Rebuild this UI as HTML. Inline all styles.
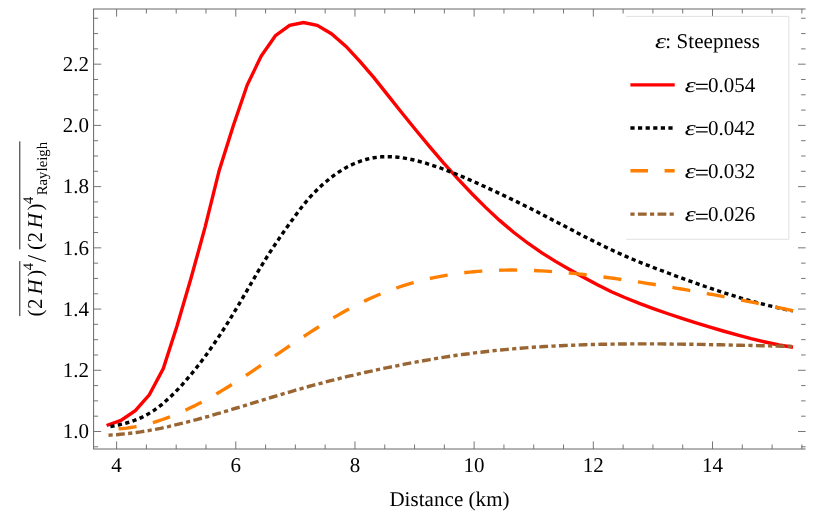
<!DOCTYPE html>
<html>
<head>
<meta charset="utf-8">
<title>Plot</title>
<style>
html, body { margin: 0; padding: 0; background: #ffffff; }
body { width: 830px; height: 527px; overflow: hidden; font-family: "Liberation Serif", serif; }
svg { display: block; will-change: transform; }
svg text { font-family: "Liberation Serif", serif; font-size: 21.0px; fill: #000; text-rendering: geometricPrecision; }
</style>
</head>
<body>
<svg width="830" height="527" viewBox="0 0 830 527">
<rect x="0" y="0" width="830" height="527" fill="#ffffff"/>
<g id="curves" stroke-linecap="butt">
<path d="M106.6,425.5 L120.9,420.4 L135.3,410.6 L149.3,394.8 L163.3,368.6 L177.0,326.0 L191.0,278.3 L205.1,227.1 L219.2,170.4 L233.2,126.0 L247.3,84.8 L261.2,56.1 L275.4,35.7 L289.6,25.4 L303.5,22.5 L317.2,25.4 L331.4,33.7 L345.8,46.1 L359.9,61.4 L373.9,77.6 L387.8,95.1 L401.8,112.7 L415.8,130.0 L429.8,146.9 L443.7,163.2 L457.7,178.7 L471.7,193.5 L485.6,207.4 L499.6,220.4 L513.6,232.3 L527.6,243.0 L541.5,252.7 L555.5,261.4 L569.5,269.5 L583.4,277.2 L597.4,284.7 L611.4,291.7 L625.3,297.8 L639.3,303.4 L653.3,308.6 L667.3,313.5 L681.2,318.2 L695.2,322.7 L709.2,326.9 L723.1,331.0 L737.1,334.9 L751.1,338.7 L765.1,342.0 L779.0,345.0 L793.0,347.3" stroke="#ff0000" stroke-width="3.4" fill="none" stroke-linejoin="miter"/>
<path d="M110.4,426.6 L114.4,425.8 L118.4,425.0 L122.4,424.1 L126.4,423.0 L130.4,421.8 L134.4,420.4 L138.3,418.9 L142.3,417.1 L146.3,415.0 L150.3,412.7 L154.3,410.2 L158.3,407.3 L162.3,404.1 L166.3,400.6 L170.3,396.9 L174.3,393.0 L178.3,388.9 L182.3,384.6 L186.2,380.1 L190.2,375.4 L194.2,370.6 L198.2,365.5 L202.2,360.3 L206.2,354.9 L210.2,349.3 L214.2,343.5 L218.2,337.6 L222.2,331.5 L226.2,325.2 L230.2,318.8 L234.1,312.3 L238.1,305.7 L242.1,298.9 L246.1,292.1 L250.1,285.2 L254.1,278.3 L258.1,271.4 L262.1,264.8 L266.1,258.3 L270.1,252.0 L274.1,246.0 L278.1,240.1 L282.0,234.3 L286.0,228.6 L290.0,223.0 L294.0,217.5 L298.0,212.0 L302.0,206.7 L306.0,201.8 L310.0,197.2 L314.0,192.9 L318.0,188.9 L322.0,185.1 L326.0,181.7 L329.9,178.4 L333.9,175.4 L337.9,172.6 L341.9,170.1 L345.9,167.7 L349.9,165.6 L353.9,163.8 L357.9,162.1 L361.9,160.7 L365.9,159.5 L369.9,158.5 L373.9,157.7 L377.9,157.2 L381.8,156.8 L385.8,156.7 L389.8,156.7 L393.8,156.9 L397.8,157.2 L401.8,157.7 L405.8,158.4 L409.8,159.1 L413.8,160.0 L417.8,161.0 L421.8,162.1 L425.8,163.2 L429.7,164.5 L433.7,165.8 L437.7,167.1 L441.7,168.5 L445.7,170.0 L449.7,171.6 L453.7,173.1 L457.7,174.8 L461.7,176.4 L465.7,178.1 L469.7,179.9 L473.7,181.6 L477.6,183.4 L481.6,185.2 L485.6,187.0 L489.6,188.9 L493.6,190.7 L497.6,192.6 L501.6,194.5 L505.6,196.4 L509.6,198.3 L513.6,200.2 L517.6,202.1 L521.6,204.1 L525.5,206.1 L529.5,208.0 L533.5,210.1 L537.5,212.1 L541.5,214.1 L545.5,216.2 L549.5,218.3 L553.5,220.4 L557.5,222.4 L561.5,224.5 L565.5,226.6 L569.5,228.7 L573.5,230.8 L577.4,232.9 L581.4,235.0 L585.4,237.1 L589.4,239.1 L593.4,241.1 L597.4,243.1 L601.4,245.1 L605.4,247.0 L609.4,248.9 L613.4,250.8 L617.4,252.6 L621.4,254.4 L625.3,256.1 L629.3,257.9 L633.3,259.5 L637.3,261.2 L641.3,262.8 L645.3,264.4 L649.3,265.9 L653.3,267.5 L657.3,269.0 L661.3,270.5 L665.3,272.0 L669.3,273.5 L673.2,275.0 L677.2,276.5 L681.2,277.9 L685.2,279.4 L689.2,280.8 L693.2,282.2 L697.2,283.7 L701.2,285.1 L705.2,286.5 L709.2,287.8 L713.2,289.2 L717.2,290.5 L721.1,291.8 L725.1,293.1 L729.1,294.4 L733.1,295.6 L737.1,296.9 L741.1,298.1 L745.1,299.2 L749.1,300.4 L753.1,301.5 L757.1,302.6 L761.1,303.6 L765.1,304.7 L769.0,305.7 L773.0,306.6 L777.0,307.5 L781.0,308.4 L785.0,309.3 L789.0,310.1 L793.0,310.9" stroke="#000000" stroke-width="3.4" fill="none" stroke-dasharray="4.2 3.4"/>
<path d="M118.6,428.8 L122.6,428.5 L126.6,428.1 L130.6,427.5 L134.6,426.9 L138.6,426.1 L142.5,425.2 L146.5,424.3 L150.5,423.2 L154.5,422.1 L158.5,420.8 L162.5,419.5 L166.5,418.1 L170.5,416.6 L174.5,415.0 L178.5,413.3 L182.4,411.6 L186.4,409.7 L190.4,407.8 L194.4,405.9 L198.4,403.8 L202.4,401.8 L206.4,399.6 L210.4,397.4 L214.4,395.1 L218.4,392.8 L222.4,390.4 L226.3,388.0 L230.3,385.5 L234.3,383.0 L238.3,380.4 L242.3,377.8 L246.3,375.2 L250.3,372.6 L254.3,369.9 L258.3,367.2 L262.3,364.5 L266.2,361.8 L270.2,359.1 L274.2,356.4 L278.2,353.7 L282.2,350.9 L286.2,348.2 L290.2,345.5 L294.2,342.8 L298.2,340.2 L302.2,337.5 L306.2,334.9 L310.1,332.3 L314.1,329.7 L318.1,327.2 L322.1,324.7 L326.1,322.2 L330.1,319.8 L334.1,317.4 L338.1,315.1 L342.1,312.8 L346.1,310.6 L350.1,308.4 L354.0,306.3 L358.0,304.3 L362.0,302.3 L366.0,300.4 L370.0,298.5 L374.0,296.7 L378.0,295.0 L382.0,293.4 L386.0,291.8 L390.0,290.3 L393.9,288.9 L397.9,287.5 L401.9,286.2 L405.9,284.9 L409.9,283.7 L413.9,282.6 L417.9,281.5 L421.9,280.4 L425.9,279.5 L429.9,278.5 L433.9,277.7 L437.8,276.9 L441.8,276.1 L445.8,275.4 L449.8,274.7 L453.8,274.1 L457.8,273.5 L461.8,273.0 L465.8,272.5 L469.8,272.1 L473.8,271.7 L477.7,271.4 L481.7,271.1 L485.7,270.8 L489.7,270.6 L493.7,270.4 L497.7,270.3 L501.7,270.1 L505.7,270.1 L509.7,270.0 L513.7,270.0 L517.7,270.1 L521.6,270.1 L525.6,270.2 L529.6,270.3 L533.6,270.5 L537.6,270.7 L541.6,270.9 L545.6,271.1 L549.6,271.4 L553.6,271.7 L557.6,272.0 L561.5,272.3 L565.5,272.7 L569.5,273.0 L573.5,273.4 L577.5,273.9 L581.5,274.3 L585.5,274.8 L589.5,275.2 L593.5,275.7 L597.5,276.2 L601.5,276.7 L605.4,277.2 L609.4,277.8 L613.4,278.3 L617.4,278.9 L621.4,279.5 L625.4,280.0 L629.4,280.6 L633.4,281.2 L637.4,281.8 L641.4,282.4 L645.4,283.1 L649.3,283.7 L653.3,284.3 L657.3,285.0 L661.3,285.6 L665.3,286.3 L669.3,286.9 L673.3,287.6 L677.3,288.3 L681.3,289.0 L685.3,289.7 L689.2,290.4 L693.2,291.1 L697.2,291.8 L701.2,292.5 L705.2,293.2 L709.2,294.0 L713.2,294.7 L717.2,295.4 L721.2,296.2 L725.2,297.0 L729.2,297.7 L733.1,298.5 L737.1,299.3 L741.1,300.0 L745.1,300.8 L749.1,301.6 L753.1,302.4 L757.1,303.2 L761.1,304.0 L765.1,304.8 L769.1,305.7 L773.0,306.5 L777.0,307.3 L781.0,308.1 L785.0,309.0 L789.0,309.8 L793.0,310.7" stroke="#ff8000" stroke-width="3.4" fill="none" stroke-dasharray="18.1 16.8"/>
<path d="M108.5,435.2 L112.5,434.9 L116.5,434.7 L120.5,434.3 L124.5,433.9 L128.5,433.5 L132.5,433.0 L136.5,432.5 L140.5,431.9 L144.5,431.2 L148.5,430.6 L152.5,429.8 L156.5,429.1 L160.5,428.3 L164.5,427.4 L168.5,426.6 L172.5,425.6 L176.5,424.7 L180.6,423.7 L184.6,422.7 L188.6,421.7 L192.6,420.7 L196.6,419.6 L200.6,418.5 L204.6,417.4 L208.6,416.3 L212.6,415.1 L216.6,413.9 L220.6,412.8 L224.6,411.6 L228.6,410.4 L232.6,409.2 L236.6,408.0 L240.6,406.8 L244.6,405.6 L248.6,404.3 L252.6,403.1 L256.6,401.9 L260.6,400.7 L264.6,399.5 L268.6,398.2 L272.6,397.0 L276.6,395.8 L280.6,394.6 L284.6,393.4 L288.6,392.3 L292.6,391.1 L296.6,389.9 L300.6,388.8 L304.6,387.7 L308.6,386.5 L312.6,385.4 L316.7,384.4 L320.7,383.3 L324.7,382.2 L328.7,381.2 L332.7,380.2 L336.7,379.2 L340.7,378.2 L344.7,377.2 L348.7,376.2 L352.7,375.3 L356.7,374.3 L360.7,373.4 L364.7,372.5 L368.7,371.6 L372.7,370.8 L376.7,369.9 L380.7,369.0 L384.7,368.2 L388.7,367.4 L392.7,366.6 L396.7,365.8 L400.7,365.0 L404.7,364.2 L408.7,363.4 L412.7,362.7 L416.7,361.9 L420.7,361.2 L424.7,360.5 L428.7,359.8 L432.7,359.1 L436.7,358.4 L440.7,357.8 L444.7,357.1 L448.7,356.5 L452.8,355.9 L456.8,355.3 L460.8,354.7 L464.8,354.2 L468.8,353.7 L472.8,353.1 L476.8,352.6 L480.8,352.2 L484.8,351.7 L488.8,351.2 L492.8,350.8 L496.8,350.4 L500.8,350.0 L504.8,349.6 L508.8,349.2 L512.8,348.9 L516.8,348.5 L520.8,348.2 L524.8,347.9 L528.8,347.6 L532.8,347.3 L536.8,347.0 L540.8,346.8 L544.8,346.5 L548.8,346.3 L552.8,346.1 L556.8,345.9 L560.8,345.7 L564.8,345.5 L568.8,345.3 L572.8,345.2 L576.8,345.0 L580.8,344.9 L584.8,344.7 L588.9,344.6 L592.9,344.5 L596.9,344.4 L600.9,344.3 L604.9,344.2 L608.9,344.2 L612.9,344.1 L616.9,344.1 L620.9,344.0 L624.9,344.0 L628.9,343.9 L632.9,343.9 L636.9,343.9 L640.9,343.9 L644.9,343.9 L648.9,343.9 L652.9,343.9 L656.9,343.9 L660.9,343.9 L664.9,344.0 L668.9,344.0 L672.9,344.1 L676.9,344.1 L680.9,344.1 L684.9,344.2 L688.9,344.3 L692.9,344.3 L696.9,344.4 L700.9,344.4 L704.9,344.5 L708.9,344.6 L712.9,344.7 L716.9,344.7 L720.9,344.8 L725.0,344.9 L729.0,345.0 L733.0,345.1 L737.0,345.2 L741.0,345.3 L745.0,345.4 L749.0,345.4 L753.0,345.5 L757.0,345.6 L761.0,345.7 L765.0,345.8 L769.0,345.9 L773.0,346.0 L777.0,346.1 L781.0,346.2 L785.0,346.2 L789.0,346.3 L793.0,346.4" stroke="#996633" stroke-width="3.4" fill="none" stroke-dasharray="4.2 3.35 8.8 3.35"/>
</g>
<g id="frame" fill="none" stroke="#666" stroke-width="1">
<path d="M93.6,449.0 V9.0"/>
<path d="M93.1,9.0 H805.6"/>
<path d="M93.1,449.0 H805.6"/>
<path d="M116.60,449.0 v-7.6 M116.60,9.0 v7.6 M146.39,449.0 v-4.5 M146.39,9.0 v4.5 M176.19,449.0 v-4.5 M176.19,9.0 v4.5 M205.99,449.0 v-4.5 M205.99,9.0 v4.5 M235.78,449.0 v-7.6 M235.78,9.0 v7.6 M265.58,449.0 v-4.5 M265.58,9.0 v4.5 M295.37,449.0 v-4.5 M295.37,9.0 v4.5 M325.16,449.0 v-4.5 M325.16,9.0 v4.5 M354.96,449.0 v-7.6 M354.96,9.0 v7.6 M384.75,449.0 v-4.5 M384.75,9.0 v4.5 M414.55,449.0 v-4.5 M414.55,9.0 v4.5 M444.35,449.0 v-4.5 M444.35,9.0 v4.5 M474.14,449.0 v-7.6 M474.14,9.0 v7.6 M503.94,449.0 v-4.5 M503.94,9.0 v4.5 M533.73,449.0 v-4.5 M533.73,9.0 v4.5 M563.52,449.0 v-4.5 M563.52,9.0 v4.5 M593.32,449.0 v-7.6 M593.32,9.0 v7.6 M623.12,449.0 v-4.5 M623.12,9.0 v4.5 M652.91,449.0 v-4.5 M652.91,9.0 v4.5 M682.71,449.0 v-4.5 M682.71,9.0 v4.5 M712.50,449.0 v-7.6 M712.50,9.0 v7.6 M742.30,449.0 v-4.5 M742.30,9.0 v4.5 M772.09,449.0 v-4.5 M772.09,9.0 v4.5 M801.89,449.0 v-4.5 M801.89,9.0 v4.5 M93.6,446.81 h4.5 M805.6,446.81 h-4.5 M93.6,431.50 h7.6 M805.6,431.50 h-7.6 M93.6,416.19 h4.5 M805.6,416.19 h-4.5 M93.6,400.89 h4.5 M805.6,400.89 h-4.5 M93.6,385.58 h4.5 M805.6,385.58 h-4.5 M93.6,370.28 h7.6 M805.6,370.28 h-7.6 M93.6,354.98 h4.5 M805.6,354.98 h-4.5 M93.6,339.67 h4.5 M805.6,339.67 h-4.5 M93.6,324.36 h4.5 M805.6,324.36 h-4.5 M93.6,309.06 h7.6 M805.6,309.06 h-7.6 M93.6,293.75 h4.5 M805.6,293.75 h-4.5 M93.6,278.45 h4.5 M805.6,278.45 h-4.5 M93.6,263.14 h4.5 M805.6,263.14 h-4.5 M93.6,247.84 h7.6 M805.6,247.84 h-7.6 M93.6,232.53 h4.5 M805.6,232.53 h-4.5 M93.6,217.23 h4.5 M805.6,217.23 h-4.5 M93.6,201.92 h4.5 M805.6,201.92 h-4.5 M93.6,186.62 h7.6 M805.6,186.62 h-7.6 M93.6,171.31 h4.5 M805.6,171.31 h-4.5 M93.6,156.01 h4.5 M805.6,156.01 h-4.5 M93.6,140.70 h4.5 M805.6,140.70 h-4.5 M93.6,125.40 h7.6 M805.6,125.40 h-7.6 M93.6,110.09 h4.5 M805.6,110.09 h-4.5 M93.6,94.79 h4.5 M805.6,94.79 h-4.5 M93.6,79.49 h4.5 M805.6,79.49 h-4.5 M93.6,64.18 h7.6 M805.6,64.18 h-7.6 M93.6,48.88 h4.5 M805.6,48.88 h-4.5 M93.6,33.57 h4.5 M805.6,33.57 h-4.5 M93.6,18.26 h4.5 M805.6,18.26 h-4.5" stroke-width="0.9"/>
</g>
<g id="legend">
<rect x="626.2" y="16.4" width="162.69999999999993" height="222.9" fill="#fff"/>
<path d="M626.2,16.4 H788.9 V239.3 H626.2" fill="none" stroke="#d9d9d9" stroke-width="0.8"/>
<text transform="translate(655,47.6) scale(1.33,1)" font-style="italic">ε</text>
<text x="665.3" y="47.6" style="letter-spacing:0.07px">: Steepness</text>
<path d="M630.4,84.9 H674.7" stroke="#ff0000" stroke-width="3.4" fill="none"/>
<text transform="translate(684.7,91.9) scale(1.33,1)" font-style="italic">ε</text>
<text transform="translate(694.8,94.3) scale(1.2,1.06)">=</text>
<text x="707.9" y="91.9">0.054</text>
<path d="M630.4,128.0 H674.7" stroke="#000000" stroke-width="3.4" fill="none" stroke-dasharray="4.2 3.4"/>
<text transform="translate(684.7,135.0) scale(1.33,1)" font-style="italic">ε</text>
<text transform="translate(694.8,137.4) scale(1.2,1.06)">=</text>
<text x="707.9" y="135.0">0.042</text>
<path d="M630.4,170.8 H674.7" stroke="#ff8000" stroke-width="3.4" fill="none" stroke-dasharray="17.6 16.6"/>
<text transform="translate(684.7,177.8) scale(1.33,1)" font-style="italic">ε</text>
<text transform="translate(694.8,180.2) scale(1.2,1.06)">=</text>
<text x="707.9" y="177.8">0.032</text>
<path d="M630.4,214.1 H674.7" stroke="#996633" stroke-width="3.4" fill="none" stroke-dasharray="4.2 3.3 8.8 3.3"/>
<text transform="translate(684.7,221.1) scale(1.33,1)" font-style="italic">ε</text>
<text transform="translate(694.8,223.5) scale(1.2,1.06)">=</text>
<text x="707.9" y="221.1">0.026</text>
</g>
<g id="labels">
<text x="116.6" y="472.3" text-anchor="middle">4</text>
<text x="235.8" y="472.3" text-anchor="middle">6</text>
<text x="355.0" y="472.3" text-anchor="middle">8</text>
<text x="474.1" y="472.3" text-anchor="middle">10</text>
<text x="593.3" y="472.3" text-anchor="middle">12</text>
<text x="712.5" y="472.3" text-anchor="middle">14</text>
<text x="88.9" y="438.3" text-anchor="end">1.0</text>
<text x="88.9" y="377.1" text-anchor="end">1.2</text>
<text x="88.9" y="315.9" text-anchor="end">1.4</text>
<text x="88.9" y="254.6" text-anchor="end">1.6</text>
<text x="88.9" y="193.4" text-anchor="end">1.8</text>
<text x="88.9" y="132.2" text-anchor="end">2.0</text>
<text x="88.9" y="71.0" text-anchor="end">2.2</text>
<text x="449.5" y="506.1" text-anchor="middle" style="letter-spacing:0.05px">Distance (km)</text>
</g>
<g transform="translate(41.6,316) rotate(-90)">
<text x="-0.40 7.10 18.10 21.50 39.20" y="0">(2 <tspan font-style="italic">H</tspan>)</text><text x="45.80" y="-8.8" style="font-size:14.7px">4</text>
<path d="M54.4,4.3 L60.4,-13.5" stroke="#000" stroke-width="1.1" fill="none"/>
<text x="65.90 73.40 84.40 87.80 105.50" y="0">(2 <tspan font-style="italic">H</tspan>)</text><text x="112.10" y="-8.8" style="font-size:14.7px">4</text>
<text x="120.7" y="4.9" style="font-size:14.799999999999999px">Rayleigh</text>
<path d="M-0.1,-21.8 H54.9 M66.6,-21.8 H174.6" stroke="#222" stroke-width="1.0" fill="none"/>
</g>
</svg>
</body>
</html>
